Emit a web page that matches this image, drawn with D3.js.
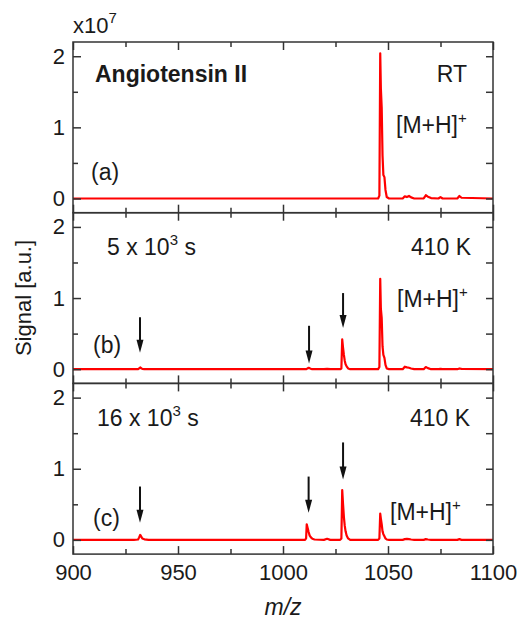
<!DOCTYPE html>
<html>
<head>
<meta charset="utf-8">
<script src="https://cdn.jsdelivr.net/npm/d3@7"></script>
<style>
body { margin: 0; background: #fff; }
text { font-family: "Liberation Sans", Arial, sans-serif; fill: #1a1a1a; }
</style>
</head>
<body>
<div id="chart-area"></div>
<script>
// m/z sample positions shared by the three spectra
let mz = [900, 929, 931.0, 931.5, 932.0, 932.5, 933.0, 934.0, 936, 960,
          990, 1010.5, 1011.0, 1011.3, 1011.7, 1012.2, 1012.7, 1013.3, 1014, 1015,
          1019.5, 1021, 1022.5, 1027.2, 1027.8, 1028.2, 1028.6, 1029.0, 1029.4, 1029.8,
          1030.3, 1031, 1032, 1040, 1045.3, 1045.9, 1046.3, 1046.6, 1047.0, 1047.4,
          1047.8, 1048.3, 1048.8, 1049.4, 1050.5, 1057, 1058, 1059, 1060, 1061,
          1062.5, 1067, 1068, 1069, 1070.5, 1074, 1075, 1076, 1083, 1084,
          1085, 1100];

// Signal (x10^7) for each panel
let signalA = [0, 0, 0, 0, 0, 0, 0, 0, 0, 0,
               0, 0, 0, 0, 0, 0, 0, 0, 0, 0,
               0, 0, 0, 0, 0, 0, 0, 0, 0, 0,
               0, 0, 0, 0, 0, 0.04, 2.04, 1.55, 1.28, 0.6,
               0.33, 0.3, 0.12, 0.02, 0, 0, 0.03, 0.02, 0.035, 0.015,
               0, 0, 0.045, 0.025, 0.005, 0, 0.02, 0, 0, 0.035,
               0.01, 0];
let signalB = [0, 0, 0, 0.01, 0.025, 0.012, 0.004, 0, 0, 0,
               0, 0, 0, 0.005, 0.01, 0.02, 0.012, 0.005, 0, 0,
               0, 0.005, 0, 0, 0.01, 0.42, 0.3, 0.2, 0.12, 0.07,
               0.04, 0.01, 0, 0, 0, 0.03, 1.27, 0.85, 0.72, 0.32,
               0.2, 0.16, 0.06, 0.01, 0, 0, 0.035, 0.025, 0.02, 0.01,
               0, 0, 0.03, 0.015, 0, 0, 0.005, 0, 0, 0.01,
               0.005, 0];
let signalC = [0, 0, 0.005, 0.035, 0.07, 0.045, 0.02, 0.008, 0, 0,
               0, 0, 0.02, 0.22, 0.17, 0.11, 0.06, 0.035, 0.015, 0.005,
               0, 0.015, 0, 0, 0.02, 0.70, 0.5, 0.32, 0.2, 0.12,
               0.06, 0.02, 0, 0, 0, 0.02, 0.37, 0.3, 0.22, 0.12,
               0.08, 0.05, 0.02, 0.005, 0, 0, 0.01, 0.015, 0.01, 0.005,
               0, 0, 0.01, 0.005, 0, 0, 0, 0, 0, 0.01,
               0, 0];

// Arrows marking fragment peaks: m/z, tail value, tip value
let arrowMzB = [931.9, 1012.4, 1028.6];
let arrowTopB = [0.73, 0.61, 1.07];
let arrowTipB = [0.23, 0.08, 0.58];
let arrowMzC = [931.9, 1012.2, 1028.6];
let arrowTopC = [0.75, 0.89, 1.37];
let arrowTipC = [0.24, 0.38, 0.85];

// Ticks
let xMajor = [900, 950, 1000, 1050, 1100];
let xMinor = [925, 975, 1025, 1075];
let yMajor = [0, 1, 2];
let yMinor = [0.5, 1.5];

let svgWidth = 520;
let svgHeight = 619;
let margin = { left: 73, top: 42 };
let width = 420;
let panelH = 170.7;
let red = '#ff0000';
let axisColor = '#333';

let svg = d3.select('#chart-area')
    .append('svg')
        .attr('width', svgWidth)
        .attr('height', svgHeight);

let x = d3.scaleLinear()
    .domain([900, 1100])
    .range([margin.left, margin.left + width]);

let panels = [
    { signal: signalA, arrows: null },
    { signal: signalB, arrows: [arrowMzB, arrowTopB, arrowTipB] },
    { signal: signalC, arrows: [arrowMzC, arrowTopC, arrowTipC] }
];

function styleAxis(sel) {
    sel.select('.domain').remove();
    sel.selectAll('line').attr('stroke', axisColor).attr('stroke-width', 1.5);
    sel.selectAll('text')
        .attr('font-size', '22px')
        .attr('font-family', '"Liberation Sans", Arial, sans-serif')
        .attr('fill', '#1a1a1a');
}

panels.forEach(function(p, i) {
    let top = margin.top + i * panelH;
    let bottom = top + panelH;
    let y = d3.scaleLinear()
        .domain([-0.2, 2.2])
        .range([bottom, top]);
    let g = svg.append('g');

    // spectrum
    let line = d3.line()
        .x(function(d, j) { return x(mz[j]); })
        .y(function(d) { return y(d); });
    g.append('path')
        .datum(p.signal)
        .attr('d', line)
        .attr('fill', 'none')
        .attr('stroke', red)
        .attr('stroke-width', 2.2)
        .attr('stroke-linejoin', 'round');

    // inward ticks on all four sides
    let last = (i === panels.length - 1);
    g.append('g').attr('transform', 'translate(0,' + bottom + ')')
        .call(d3.axisBottom(x).tickValues(xMajor).tickSize(-8).tickPadding(10)
            .tickFormat(last ? d3.format('d') : ''))
        .call(styleAxis);
    g.append('g').attr('transform', 'translate(0,' + bottom + ')')
        .call(d3.axisBottom(x).tickValues(xMinor).tickSize(-5).tickFormat(''))
        .call(styleAxis);
    g.append('g').attr('transform', 'translate(0,' + top + ')')
        .call(d3.axisTop(x).tickValues(xMajor).tickSize(-8).tickFormat(''))
        .call(styleAxis);
    g.append('g').attr('transform', 'translate(0,' + top + ')')
        .call(d3.axisTop(x).tickValues(xMinor).tickSize(-5).tickFormat(''))
        .call(styleAxis);
    g.append('g').attr('transform', 'translate(' + margin.left + ',0)')
        .call(d3.axisLeft(y).tickValues(yMajor).tickSize(-8).tickPadding(8)
            .tickFormat(d3.format('d')))
        .call(styleAxis);
    g.append('g').attr('transform', 'translate(' + margin.left + ',0)')
        .call(d3.axisLeft(y).tickValues(yMinor).tickSize(-5).tickFormat(''))
        .call(styleAxis);
    g.append('g').attr('transform', 'translate(' + (margin.left + width) + ',0)')
        .call(d3.axisRight(y).tickValues(yMajor.concat(yMinor)).tickSize(-7).tickFormat(''))
        .call(styleAxis);

    // frame
    g.append('rect')
        .attr('x', margin.left)
        .attr('y', top)
        .attr('width', width)
        .attr('height', panelH)
        .attr('fill', 'none')
        .attr('stroke', axisColor)
        .attr('stroke-width', 1.5);

    // arrows
    if (p.arrows) {
        p.arrows[0].forEach(function(m, k) {
            let ax = x(m);
            let y0 = y(p.arrows[1][k]);
            let y1 = y(p.arrows[2][k]);
            g.append('line')
                .attr('x1', ax).attr('x2', ax)
                .attr('y1', y0).attr('y2', y1 - 10)
                .attr('stroke', '#111')
                .attr('stroke-width', 2);
            g.append('path')
                .attr('d', 'M' + (ax - 3.5) + ',' + (y1 - 13) + 'L' + (ax + 3.5) + ',' + (y1 - 13) +
                    'L' + ax + ',' + y1 + 'Z')
                .attr('fill', '#111');
        });
    }
});

// Annotations
function label(xPos, yPos, opts) {
    opts = opts || {};
    return svg.append('text')
        .attr('x', xPos)
        .attr('y', yPos)
        .attr('font-size', opts.size || '23px')
        .attr('text-anchor', opts.anchor || 'start')
        .attr('font-weight', opts.weight || 'normal');
}
function sup(t, base, s, tail) {
    t.append('tspan').text(base);
    t.append('tspan').attr('dy', -10).attr('font-size', '15px').text(s);
    if (tail) t.append('tspan').attr('dy', 10).text(tail);
}

// panel (a)
label(95, 82, { weight: 'bold' }).text('Angiotensin II');
label(467, 82, { anchor: 'end' }).text('RT');
sup(label(396, 133), '[M+H]', '+');
label(91, 180).text('(a)');
// panel (b)
sup(label(107, 255), '5 x 10', '3', ' s');
label(471, 255, { anchor: 'end' }).text('410 K');
sup(label(397, 307), '[M+H]', '+');
label(93, 353).text('(b)');
// panel (c)
sup(label(97, 426), '16 x 10', '3', ' s');
label(470, 426, { anchor: 'end' }).text('410 K');
sup(label(390, 520), '[M+H]', '+');
label(93, 526).text('(c)');

// multiplier
sup(label(73, 33, { size: '22px' }), 'x10', '7');

// axis titles
label(283, 615, { anchor: 'middle' })
    .attr('font-style', 'italic')
    .text('m/z');
label(0, 0, { anchor: 'middle', size: '22px' })
    .attr('transform', 'translate(31,298) rotate(-90)')
    .text('Signal [a.u.]');
</script>
</body>
</html>
